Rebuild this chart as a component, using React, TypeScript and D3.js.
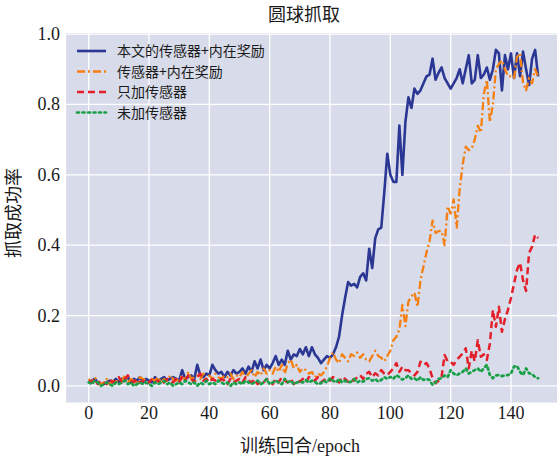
import React from "react";
import * as d3 from "d3";

const title = "圆球抓取";
const xLabel = "训练回合/epoch";
const yLabel = "抓取成功率";
const seriesNames = ["本文的传感器+内在奖励", "传感器+内在奖励", "只加传感器", "未加传感器"];
const xTicks = [0, 20, 40, 60, 80, 100, 120, 140];
const yTicks = [0, 0.2, 0.4, 0.6, 0.8, 1.0];

const blue = [
  0.01, 0.015, 0.02, 0.01, 0.005, 0.005, 0.01, 0.015, 0.01, 0.02,
  0.01, 0.02, 0.015, 0.025, 0.01, 0.02, 0.015, 0.025, 0.01, 0.02,
  0.015, 0.01, 0.025, 0.015, 0.02, 0.025, 0.015, 0.02, 0.025, 0.02,
  0.015, 0.045, 0.02, 0.025, 0.03, 0.02, 0.06, 0.03, 0.025, 0.035,
  0.03, 0.06, 0.045, 0.035, 0.04, 0.025, 0.04, 0.03, 0.045, 0.035,
  0.04, 0.05, 0.035, 0.055, 0.04, 0.07, 0.05, 0.075, 0.045, 0.06,
  0.05, 0.065, 0.085, 0.06, 0.075, 0.06, 0.1, 0.075, 0.09, 0.085,
  0.105, 0.09, 0.11, 0.085, 0.11, 0.09, 0.08, 0.065, 0.075, 0.085,
  0.08, 0.09, 0.11, 0.14, 0.2, 0.25, 0.295, 0.285, 0.29, 0.28,
  0.31, 0.32, 0.3, 0.39, 0.335, 0.42, 0.445, 0.45, 0.55, 0.66,
  0.6, 0.58, 0.58, 0.74, 0.6, 0.75, 0.82, 0.79, 0.845, 0.83,
  0.84, 0.86, 0.88, 0.885, 0.93, 0.87, 0.89, 0.905, 0.875, 0.86,
  0.845, 0.86, 0.875, 0.9, 0.86, 0.9, 0.94, 0.86, 0.87, 0.94,
  0.875, 0.885, 0.905, 0.87, 0.9, 0.955, 0.945, 0.84, 0.94, 0.9,
  0.945, 0.875, 0.945, 0.88, 0.95, 0.9, 0.855, 0.93, 0.955, 0.88,
];

const orange = [
  0.02, 0.01, 0.025, 0.015, 0.005, 0.01, 0.02, 0.005, 0.015, 0.01,
  0.02, 0.015, 0.03, 0.01, 0.02, 0.015, 0.01, 0.025, 0.02, 0.015,
  0.01, 0.02, 0.015, 0.025, 0.01, 0.02, 0.015, 0.03, 0.02, 0.015,
  0.02, 0.03, 0.015, 0.04, 0.02, 0.025, 0.03, 0.02, 0.035, 0.02,
  0.03, 0.02, 0.035, 0.025, 0.02, 0.03, 0.025, 0.035, 0.02, 0.03,
  0.025, 0.04, 0.02, 0.035, 0.045, 0.025, 0.04, 0.03, 0.05, 0.035,
  0.045, 0.035, 0.055, 0.04, 0.06, 0.035, 0.065, 0.075, 0.05, 0.06,
  0.04, 0.05, 0.045, 0.035, 0.04, 0.025, 0.035, 0.03, 0.04, 0.055,
  0.08, 0.095, 0.075, 0.065, 0.09, 0.08, 0.07, 0.09, 0.085, 0.095,
  0.08, 0.09, 0.075, 0.07, 0.085, 0.1, 0.085, 0.08, 0.07, 0.085,
  0.1, 0.13, 0.14, 0.16, 0.23, 0.17, 0.24, 0.255, 0.265, 0.225,
  0.3, 0.34, 0.38, 0.41, 0.47, 0.435, 0.44, 0.44, 0.4, 0.51,
  0.49, 0.53, 0.45, 0.56, 0.63, 0.68, 0.67, 0.675, 0.7, 0.74,
  0.72, 0.83, 0.87, 0.75, 0.8, 0.9, 0.915, 0.925, 0.9, 0.88,
  0.88, 0.875, 0.935, 0.945, 0.86, 0.84, 0.875, 0.86, 0.9, 0.88,
];

const red = [
  0.015, 0.01, 0.02, 0.005, 0.015, 0.01, 0.005, 0.02, 0.01, 0.015,
  0.025, 0.01, 0.02, 0.03, 0.015, 0.01, 0.02, 0.01, 0.015, 0.005,
  0.01, 0.02, 0.01, 0.015, 0.005, 0.01, 0.02, 0.015, 0.01, 0.02,
  0.01, 0.025, 0.015, 0.03, 0.02, 0.01, 0.025, 0.035, 0.015, 0.02,
  0.01, 0.02, 0.015, 0.01, 0.02, 0.015, 0.005, 0.02, 0.01, 0.015,
  0.02, 0.01, 0.025, 0.015, 0.01, 0.02, 0.005, 0.015, 0.01, 0.02,
  0.015, 0.005, 0.02, 0.01, 0.025, 0.015, 0.01, 0.02, 0.005, 0.015,
  0.012, 0.02, 0.01, 0.025, 0.02, 0.015, 0.025, 0.01, 0.017, 0.02,
  0.015, 0.025, 0.02, 0.01, 0.026, 0.02, 0.012, 0.02, 0.015, 0.025,
  0.031, 0.02, 0.035, 0.04, 0.025, 0.036, 0.03, 0.045, 0.035, 0.031,
  0.04, 0.05, 0.065, 0.04, 0.055, 0.045, 0.045, 0.035, 0.03, 0.04,
  0.069, 0.06, 0.065, 0.05, 0.022, 0.008, 0.015, 0.026, 0.088, 0.07,
  0.069, 0.06, 0.075, 0.083, 0.093, 0.107, 0.05, 0.1, 0.07, 0.13,
  0.083, 0.09, 0.074, 0.12, 0.216, 0.168, 0.225, 0.154, 0.19, 0.216,
  0.25, 0.29, 0.33, 0.35, 0.3, 0.27, 0.378, 0.396, 0.43, 0.42,
];

const green = [
  0.01, 0.005, 0.015, 0.01, 0.0, 0.005, 0.01, 0.005, 0.0, 0.01,
  0.005, 0.01, 0.015, 0.005, 0.01, 0.0, 0.005, 0.01, 0.005, 0.01,
  0.005, 0.0, 0.01, 0.005, 0.01, 0.015, 0.005, 0.01, 0.0, 0.005,
  0.01, 0.005, 0.015, 0.01, 0.005, 0.01, 0.0, 0.01, 0.005, 0.015,
  0.005, 0.01, 0.005, 0.015, 0.01, 0.005, 0.01, 0.0, 0.01, 0.005,
  0.01, 0.005, 0.015, 0.01, 0.005, 0.01, 0.015, 0.005, 0.01, 0.02,
  0.005, 0.01, 0.015, 0.01, 0.005, 0.02, 0.01, 0.015, 0.005, 0.01,
  0.012, 0.01, 0.017, 0.01, 0.015, 0.012, 0.005, 0.008, 0.015, 0.01,
  0.022, 0.015, 0.01, 0.02, 0.01, 0.015, 0.01, 0.012, 0.02, 0.01,
  0.015, 0.012, 0.02, 0.022, 0.015, 0.02, 0.012, 0.017, 0.025, 0.02,
  0.026, 0.02, 0.031, 0.025, 0.018, 0.022, 0.03, 0.02, 0.022, 0.015,
  0.025, 0.017, 0.02, 0.017, 0.003, 0.01, 0.02, 0.022, 0.03, 0.025,
  0.045, 0.035, 0.03, 0.036, 0.04, 0.05, 0.035, 0.04, 0.045, 0.05,
  0.04, 0.05, 0.06, 0.031, 0.022, 0.03, 0.031, 0.028, 0.03, 0.031,
  0.035, 0.055, 0.057, 0.04, 0.031, 0.05, 0.036, 0.034, 0.025, 0.022,
];

const W = 557;
const H = 460;
const serif = "'Liberation Serif', 'DejaVu Serif', 'Noto Sans CJK SC', serif";
const cjk = "'Noto Sans CJK SC', sans-serif";

const styles = [
  { color: "#2b3794", dash: "", width: 2.6 },
  { color: "#f57f10", dash: "8,3,2,3", width: 2.3 },
  { color: "#e3202a", dash: "7,4", width: 2.5 },
  { color: "#17a047", dash: "2,3.5", width: 2.7 },
];

export default function App() {
  const x = d3.scaleLinear().domain([-7.45, 156.45]).range([66.2, 560.6]);
  const y = d3.scaleLinear().domain([-0.047, 1.003]).range([402.5, 33]);
  const [x0, x1] = x.range();
  const [yb, yt] = y.range();
  const series = [blue, orange, red, green];
  const line = d3
    .line<number>()
    .x((_, i) => x(i))
    .y((d) => y(d));
  const fmt = d3.format(".1f");

  return (
    <svg width={W} height={H} style={{ position: "absolute", left: 0, top: 0, background: "#fff" }}>
      <defs>
        <clipPath id="plotclip">
          <rect x={x0} y={yt} width={x1 - x0} height={yb - yt} />
        </clipPath>
      </defs>
      <rect x={x0} y={yt} width={x1 - x0} height={yb - yt} fill="#d8dbe9" />
      {xTicks.map((t) => (
        <line key={"gx" + t} x1={x(t)} x2={x(t)} y1={yt} y2={yb} stroke="#fff" strokeWidth={1.3} />
      ))}
      {yTicks.map((t) => (
        <line key={"gy" + t} x1={x0} x2={x1} y1={y(t)} y2={y(t)} stroke="#fff" strokeWidth={1.3} />
      ))}
      <g clipPath="url(#plotclip)">
        {series.map((s, i) => (
          <path
            key={i}
            d={line(s) || ""}
            fill="none"
            stroke={styles[i].color}
            strokeWidth={styles[i].width}
            strokeDasharray={styles[i].dash}
            strokeLinejoin="round"
            strokeLinecap={i === 3 ? "round" : "butt"}
          />
        ))}
      </g>
      {xTicks.map((t) => (
        <text key={"tx" + t} x={x(t)} y={419} textAnchor="middle" fontFamily={serif} fontSize={18} fill="#1a1a1a">
          {t}
        </text>
      ))}
      {yTicks.map((t) => (
        <text key={"ty" + t} x={60} y={y(t) + 6} textAnchor="end" fontFamily={serif} fontSize={18} fill="#1a1a1a">
          {fmt(t)}
        </text>
      ))}
      <text x={304} y={21} textAnchor="middle" fontFamily={cjk} fontSize={18} fill="#1a1a1a">
        {title}
      </text>
      <text x={300} y={452} textAnchor="middle" fontFamily={serif} fontSize={18} fill="#1a1a1a">
        {xLabel}
      </text>
      <text
        transform={`translate(20,213) rotate(-90)`}
        textAnchor="middle"
        fontFamily={cjk}
        fontSize={18}
        fill="#1a1a1a"
      >
        {yLabel}
      </text>
      {seriesNames.map((name, i) => {
        const ly = 51 + i * 20.5;
        return (
          <g key={"lg" + i}>
            <line
              x1={77}
              x2={106}
              y1={ly}
              y2={ly}
              stroke={styles[i].color}
              strokeWidth={styles[i].width}
              strokeDasharray={styles[i].dash}
              strokeLinecap={i === 3 ? "round" : "butt"}
            />
            <text x={117} y={ly + 5} fontFamily={cjk} fontSize={14} fill="#1a1a1a">
              {name}
            </text>
          </g>
        );
      })}
    </svg>
  );
}
